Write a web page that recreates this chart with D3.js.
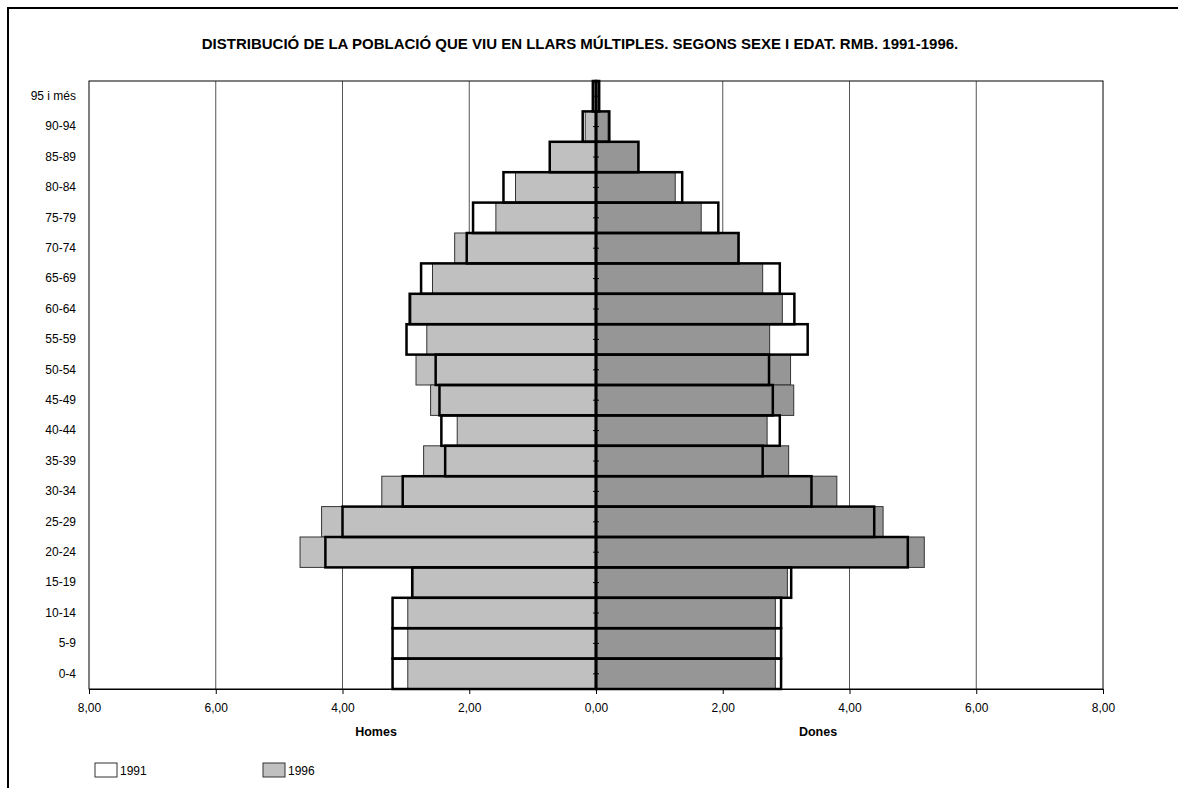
<!DOCTYPE html>
<html>
<head>
<meta charset="utf-8">
<script src="https://cdn.jsdelivr.net/npm/d3@7"></script>
<style>
  html, body { margin: 0; padding: 0; background: #fff; }
  svg { display: block; font-family: "Liberation Sans", Arial, sans-serif; }
</style>
</head>
<body>
<svg id="chart" width="1178" height="788"></svg>
<script>
const categories = ["95 i més","90-94","85-89","80-84","75-79","70-74","65-69","60-64","55-59","50-54",
                    "45-49","40-44","35-39","30-34","25-29","20-24","15-19","10-14","5-9","0-4"];
const homes1991 = [0.05,0.21,0.73,1.46,1.94,2.04,2.76,2.94,2.99,2.53,2.47,2.44,2.38,3.05,4.00,4.27,2.90,3.21,3.21,3.21];
const homes1996 = [0.04,0.17,0.72,1.27,1.58,2.23,2.58,2.92,2.67,2.84,2.61,2.19,2.72,3.38,4.33,4.67,2.89,2.97,2.97,2.97];
const dones1991 = [0.05,0.21,0.67,1.36,1.93,2.25,2.90,3.13,3.34,2.73,2.79,2.90,2.63,3.40,4.39,4.92,3.08,2.92,2.92,2.92];
const dones1996 = [0.04,0.19,0.66,1.25,1.66,2.24,2.63,2.94,2.74,3.07,3.12,2.70,3.04,3.80,4.53,5.18,3.02,2.83,2.83,2.83];
const xTicks = [-8,-6,-4,-2,0,2,4,6,8];
const title = "DISTRIBUCIÓ DE LA POBLACIÓ QUE VIU EN LLARS MÚLTIPLES. SEGONS SEXE I EDAT. RMB. 1991-1996.";
const seriesNames = ["1991","1996"];

const svg = d3.select("#chart");
const L = 89, R = 1103, T = 81, B = 689;

const x = d3.scaleLinear().domain([-8, 8]).range([L, R]);
const y = d3.scaleBand().domain(categories).range([T, B]).padding(0);

// outer frame
svg.append("rect").attr("x", 8).attr("y", 8).attr("width", 1190).attr("height", 800)
  .attr("fill", "none").attr("stroke", "#000").attr("stroke-width", 2);

// title
svg.append("text").attr("x", 580).attr("y", 49).attr("text-anchor", "middle")
  .attr("font-size", 15).attr("font-weight", "bold").text(title);

// gridlines
svg.append("g").selectAll("line").data(xTicks.filter(d => d !== 0 && Math.abs(d) !== 8)).join("line")
  .attr("x1", d => x(d)).attr("x2", d => x(d)).attr("y1", T).attr("y2", B)
  .attr("stroke", "#555").attr("stroke-width", 1);

// plot frame
svg.append("rect").attr("x", L).attr("y", T).attr("width", R - L).attr("height", B - T)
  .attr("fill", "none").attr("stroke", "#000").attr("stroke-width", 1);

const rows = categories.map((c, i) => ({c, h91: homes1991[i], h96: homes1996[i], d91: dones1991[i], d96: dones1996[i]}));

// 1996 bars (filled)
const g96 = svg.append("g");
g96.selectAll("rect.h").data(rows).join("rect").attr("class", "h")
  .attr("x", d => x(-d.h96)).attr("width", d => x(0) - x(-d.h96))
  .attr("y", d => y(d.c)).attr("height", y.bandwidth())
  .attr("fill", "#c0c0c0").attr("stroke", "#333").attr("stroke-width", 1);
g96.selectAll("rect.d").data(rows).join("rect").attr("class", "d")
  .attr("x", x(0)).attr("width", d => x(d.d96) - x(0))
  .attr("y", d => y(d.c)).attr("height", y.bandwidth())
  .attr("fill", "#969696").attr("stroke", "#333").attr("stroke-width", 1);

// 1991 bars (outline)
const g91 = svg.append("g");
g91.selectAll("rect.h").data(rows).join("rect").attr("class", "h")
  .attr("x", d => x(-d.h91)).attr("width", d => x(0) - x(-d.h91))
  .attr("y", d => y(d.c)).attr("height", y.bandwidth())
  .attr("fill", "none").attr("stroke", "#000").attr("stroke-width", 2.5);
g91.selectAll("rect.d").data(rows).join("rect").attr("class", "d")
  .attr("x", x(0)).attr("width", d => x(d.d91) - x(0))
  .attr("y", d => y(d.c)).attr("height", y.bandwidth())
  .attr("fill", "none").attr("stroke", "#000").attr("stroke-width", 2.5);

// centre axis
svg.append("line").attr("x1", x(0)).attr("x2", x(0)).attr("y1", T).attr("y2", B)
  .attr("stroke", "#000").attr("stroke-width", 2.5);
svg.append("g").selectAll("line").data(categories).join("line")
  .attr("x1", x(0) - 3).attr("x2", x(0) + 3)
  .attr("y1", d => y(d) + y.bandwidth() / 2).attr("y2", d => y(d) + y.bandwidth() / 2)
  .attr("stroke", "#000").attr("stroke-width", 1);

// category labels
const yAxis = svg.append("g").attr("transform", `translate(${L},0)`)
  .call(d3.axisLeft(y).tickSize(0).tickPadding(13));
yAxis.select(".domain").remove();
yAxis.selectAll("text").attr("font-size", 12).attr("font-family", "Liberation Sans, Arial, sans-serif").attr("fill", "#000");

// bottom axis
const xAxis = svg.append("g").attr("transform", `translate(0,${B})`)
  .call(d3.axisBottom(x).tickValues(xTicks).tickSize(5).tickPadding(9)
    .tickFormat(d => Math.abs(d).toFixed(2).replace(".", ",")));
xAxis.select(".domain").attr("stroke", "#000");
xAxis.selectAll("line").attr("stroke", "#000");
xAxis.selectAll("text").attr("font-size", 12).attr("font-family", "Liberation Sans, Arial, sans-serif").attr("fill", "#000");

// axis titles
svg.append("text").attr("x", 376).attr("y", 736).attr("text-anchor", "middle")
  .attr("font-size", 12.5).attr("font-weight", "bold").text("Homes");
svg.append("text").attr("x", 818).attr("y", 736).attr("text-anchor", "middle")
  .attr("font-size", 12.5).attr("font-weight", "bold").text("Dones");

// legend
const legend = svg.append("g");
const legX = [95, 263];
const legFill = ["#ffffff", "#c0c0c0"];
seriesNames.forEach((s, i) => {
  legend.append("rect").attr("x", legX[i]).attr("y", 763).attr("width", 22).attr("height", 14)
    .attr("fill", legFill[i]).attr("stroke", "#333").attr("stroke-width", 1);
  legend.append("text").attr("x", legX[i] + 25).attr("y", 774.5)
    .attr("font-size", 12).text(s);
});
</script>
</body>
</html>
